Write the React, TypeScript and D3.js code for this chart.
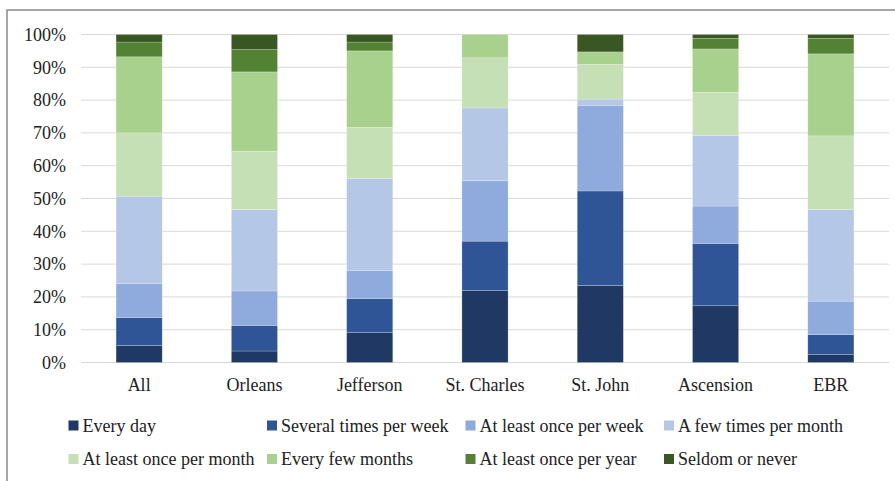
import React from "react";
import * as d3 from "d3";

const categories = ["All", "Orleans", "Jefferson", "St. Charles", "St. John", "Ascension", "EBR"];
const seriesNames = [
  "Every day",
  "Several times per week",
  "At least once per week",
  "A few times per month",
  "At least once per month",
  "Every few months",
  "At least once per year",
  "Seldom or never",
];
const everyDay = [5.2, 3.5, 9.1, 22.0, 23.5, 17.3, 2.4];
const severalPerWeek = [8.5, 7.8, 10.4, 15.0, 28.8, 19.0, 6.1];
const oncePerWeek = [10.4, 10.5, 8.6, 18.4, 26.1, 11.4, 10.2];
const fewPerMonth = [26.6, 24.9, 28.0, 22.2, 1.9, 21.5, 28.0];
const oncePerMonth = [19.3, 17.7, 15.6, 15.3, 10.6, 13.2, 22.4];
const everyFewMonths = [23.2, 24.2, 23.3, 7.1, 3.8, 13.2, 25.0];
const oncePerYear = [4.5, 6.8, 2.7, 0, 0, 3.2, 4.7];
const seldomNever = [2.3, 4.6, 2.3, 0, 5.3, 1.2, 1.2];
const yTicks = [0, 10, 20, 30, 40, 50, 60, 70, 80, 90, 100];

const seriesValues = [
  everyDay,
  severalPerWeek,
  oncePerWeek,
  fewPerMonth,
  oncePerMonth,
  everyFewMonths,
  oncePerYear,
  seldomNever,
];
const colors = ["#203864", "#2F5597", "#8FAADC", "#B4C7E7", "#C5E0B4", "#A9D18E", "#548235", "#385723"];

const W = 895;
const H = 481;
const FONT = '"Liberation Serif"';
const textStyle = { fontFamily: FONT };

export default function App() {
  const x = d3
    .scaleBand<string>()
    .domain(categories)
    .range([81.5, 888.5])
    .paddingInner(0.6)
    .paddingOuter(0.3);
  const y = d3.scaleLinear().domain([0, 100]).range([362.5, 34.5]);

  const rows = categories.map((c, i) => {
    const r: any = { cat: c };
    seriesNames.forEach((s, j) => {
      r[s] = seriesValues[j][i];
    });
    return r;
  });
  const stacked = d3.stack<any>().keys(seriesNames)(rows);

  const legendTextX = [82.5, 281, 479.5, 678];
  const legendRows = [425.5, 459];

  return (
    <svg
      width={W}
      height={H}
      style={{ position: "absolute", left: 0, top: 0, background: "#fff" }}
    >
      <rect x={7} y={10} width={W} height={H} fill="none" stroke="#8a8a8a" strokeWidth={1.5} />
      {yTicks.map((t) => (
        <g key={t}>
          <line x1={81} x2={889} y1={y(t)} y2={y(t)} stroke="#d9d9d9" strokeWidth={1} />
          <text x={66} y={y(t)} dy="0.35em" textAnchor="end" fontSize={18} fill="#222" style={textStyle}>
            {t}%
          </text>
        </g>
      ))}
      {stacked.map((layer, j) => (
        <g key={layer.key} fill={colors[j]}>
          {layer.map((d, i) =>
            d[1] - d[0] > 0 ? (
              <rect
                key={i}
                x={x(categories[i])}
                width={x.bandwidth()}
                y={y(d[1])}
                height={y(d[0]) - y(d[1])}
                stroke="#ffffff"
                strokeOpacity={0.35}
                strokeWidth={0.6}
              />
            ) : null
          )}
        </g>
      ))}
      {categories.map((c) => (
        <text
          key={c}
          x={(x(c) as number) + x.bandwidth() / 2}
          y={385}
          dy="0.35em"
          textAnchor="middle"
          fontSize={18}
          fill="#222"
          style={textStyle}
        >
          {c}
        </text>
      ))}
      {seriesNames.map((s, j) => {
        const col = j % 4;
        const row = Math.floor(j / 4);
        const tx = legendTextX[col];
        const ly = legendRows[row];
        return (
          <g key={s}>
            <rect x={tx - 14} y={ly - 5} width={10} height={10} fill={colors[j]} />
            <text x={tx} y={ly} dy="0.35em" fontSize={18} fill="#222" style={textStyle}>
              {s}
            </text>
          </g>
        );
      })}
    </svg>
  );
}
